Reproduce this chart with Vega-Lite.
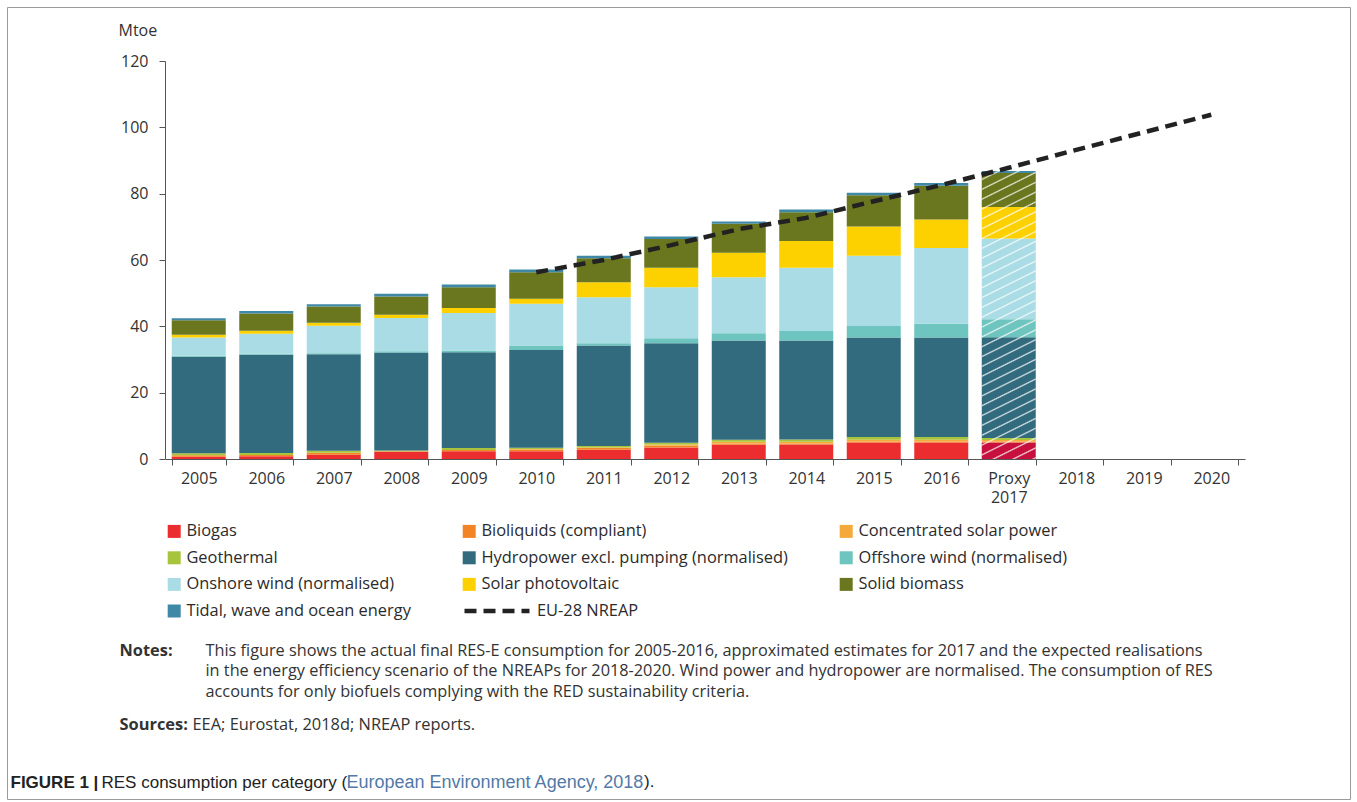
{
  "$schema": "https://vega.github.io/schema/vega-lite/v6.json",
  "autosize": {"type": "none"},
  "width": 1343,
  "height": 792,
  "padding": {"left": 7, "top": 7, "right": 7, "bottom": 3},
  "background": "white",
  "config": {"view": {"stroke": "#9a9a9a", "strokeWidth": 1}, "font": "Open Sans"},
  "title": {
    "text": ").", "orient": "bottom", "anchor": "start", "frame": "group", "offset": 0, "dx": 637, "dy": -12,
    "baseline": "alphabetic", "font": "Liberation Sans", "fontSize": 17, "fontWeight": "normal", "color": "#222222"
  },
  "datasets": {
    "res": [
      {"year":"2005","cat":"Biogas","mtoe":0.7},{"year":"2005","cat":"Bioliquids (compliant)","mtoe":0.4},{"year":"2005","cat":"Concentrated solar power","mtoe":0},{"year":"2005","cat":"Geothermal","mtoe":0.6},{"year":"2005","cat":"Hydropower excl. pumping (normalised)","mtoe":29.1},{"year":"2005","cat":"Offshore wind (normalised)","mtoe":0.3},{"year":"2005","cat":"Onshore wind (normalised)","mtoe":5.5},{"year":"2005","cat":"Solar photovoltaic","mtoe":0.9},{"year":"2005","cat":"Solid biomass","mtoe":4.3},{"year":"2005","cat":"Tidal, wave and ocean energy","mtoe":0.6},
      {"year":"2006","cat":"Biogas","mtoe":0.8},{"year":"2006","cat":"Bioliquids (compliant)","mtoe":0.4},{"year":"2006","cat":"Concentrated solar power","mtoe":0},{"year":"2006","cat":"Geothermal","mtoe":0.6},{"year":"2006","cat":"Hydropower excl. pumping (normalised)","mtoe":29.6},{"year":"2006","cat":"Offshore wind (normalised)","mtoe":0.3},{"year":"2006","cat":"Onshore wind (normalised)","mtoe":6.1},{"year":"2006","cat":"Solar photovoltaic","mtoe":0.9},{"year":"2006","cat":"Solid biomass","mtoe":5.2},{"year":"2006","cat":"Tidal, wave and ocean energy","mtoe":0.7},
      {"year":"2007","cat":"Biogas","mtoe":1.3},{"year":"2007","cat":"Bioliquids (compliant)","mtoe":0.5},{"year":"2007","cat":"Concentrated solar power","mtoe":0.05},{"year":"2007","cat":"Geothermal","mtoe":0.6},{"year":"2007","cat":"Hydropower excl. pumping (normalised)","mtoe":29.1},{"year":"2007","cat":"Offshore wind (normalised)","mtoe":0.3},{"year":"2007","cat":"Onshore wind (normalised)","mtoe":8.3},{"year":"2007","cat":"Solar photovoltaic","mtoe":0.9},{"year":"2007","cat":"Solid biomass","mtoe":4.9},{"year":"2007","cat":"Tidal, wave and ocean energy","mtoe":0.7},
      {"year":"2008","cat":"Biogas","mtoe":2.2},{"year":"2008","cat":"Bioliquids (compliant)","mtoe":0.1},{"year":"2008","cat":"Concentrated solar power","mtoe":0.05},{"year":"2008","cat":"Geothermal","mtoe":0.25},{"year":"2008","cat":"Hydropower excl. pumping (normalised)","mtoe":29.5},{"year":"2008","cat":"Offshore wind (normalised)","mtoe":0.4},{"year":"2008","cat":"Onshore wind (normalised)","mtoe":10.0},{"year":"2008","cat":"Solar photovoltaic","mtoe":1.0},{"year":"2008","cat":"Solid biomass","mtoe":5.5},{"year":"2008","cat":"Tidal, wave and ocean energy","mtoe":0.8},
      {"year":"2009","cat":"Biogas","mtoe":2.3},{"year":"2009","cat":"Bioliquids (compliant)","mtoe":0.4},{"year":"2009","cat":"Concentrated solar power","mtoe":0.05},{"year":"2009","cat":"Geothermal","mtoe":0.55},{"year":"2009","cat":"Hydropower excl. pumping (normalised)","mtoe":28.9},{"year":"2009","cat":"Offshore wind (normalised)","mtoe":0.5},{"year":"2009","cat":"Onshore wind (normalised)","mtoe":11.3},{"year":"2009","cat":"Solar photovoltaic","mtoe":1.5},{"year":"2009","cat":"Solid biomass","mtoe":6.3},{"year":"2009","cat":"Tidal, wave and ocean energy","mtoe":0.8},
      {"year":"2010","cat":"Biogas","mtoe":2.3},{"year":"2010","cat":"Bioliquids (compliant)","mtoe":0.6},{"year":"2010","cat":"Concentrated solar power","mtoe":0.1},{"year":"2010","cat":"Geothermal","mtoe":0.4},{"year":"2010","cat":"Hydropower excl. pumping (normalised)","mtoe":29.5},{"year":"2010","cat":"Offshore wind (normalised)","mtoe":1.3},{"year":"2010","cat":"Onshore wind (normalised)","mtoe":12.6},{"year":"2010","cat":"Solar photovoltaic","mtoe":1.5},{"year":"2010","cat":"Solid biomass","mtoe":8.0},{"year":"2010","cat":"Tidal, wave and ocean energy","mtoe":0.8},
      {"year":"2011","cat":"Biogas","mtoe":2.8},{"year":"2011","cat":"Bioliquids (compliant)","mtoe":0.5},{"year":"2011","cat":"Concentrated solar power","mtoe":0.2},{"year":"2011","cat":"Geothermal","mtoe":0.4},{"year":"2011","cat":"Hydropower excl. pumping (normalised)","mtoe":30.3},{"year":"2011","cat":"Offshore wind (normalised)","mtoe":0.7},{"year":"2011","cat":"Onshore wind (normalised)","mtoe":13.9},{"year":"2011","cat":"Solar photovoltaic","mtoe":4.5},{"year":"2011","cat":"Solid biomass","mtoe":7.2},{"year":"2011","cat":"Tidal, wave and ocean energy","mtoe":0.8},
      {"year":"2012","cat":"Biogas","mtoe":3.5},{"year":"2012","cat":"Bioliquids (compliant)","mtoe":0.5},{"year":"2012","cat":"Concentrated solar power","mtoe":0.4},{"year":"2012","cat":"Geothermal","mtoe":0.5},{"year":"2012","cat":"Hydropower excl. pumping (normalised)","mtoe":30.0},{"year":"2012","cat":"Offshore wind (normalised)","mtoe":1.5},{"year":"2012","cat":"Onshore wind (normalised)","mtoe":15.4},{"year":"2012","cat":"Solar photovoltaic","mtoe":5.9},{"year":"2012","cat":"Solid biomass","mtoe":8.6},{"year":"2012","cat":"Tidal, wave and ocean energy","mtoe":0.8},
      {"year":"2013","cat":"Biogas","mtoe":4.3},{"year":"2013","cat":"Bioliquids (compliant)","mtoe":0.4},{"year":"2013","cat":"Concentrated solar power","mtoe":0.5},{"year":"2013","cat":"Geothermal","mtoe":0.6},{"year":"2013","cat":"Hydropower excl. pumping (normalised)","mtoe":29.9},{"year":"2013","cat":"Offshore wind (normalised)","mtoe":2.2},{"year":"2013","cat":"Onshore wind (normalised)","mtoe":16.9},{"year":"2013","cat":"Solar photovoltaic","mtoe":7.4},{"year":"2013","cat":"Solid biomass","mtoe":8.7},{"year":"2013","cat":"Tidal, wave and ocean energy","mtoe":0.7},
      {"year":"2014","cat":"Biogas","mtoe":4.4},{"year":"2014","cat":"Bioliquids (compliant)","mtoe":0.3},{"year":"2014","cat":"Concentrated solar power","mtoe":0.5},{"year":"2014","cat":"Geothermal","mtoe":0.7},{"year":"2014","cat":"Hydropower excl. pumping (normalised)","mtoe":29.8},{"year":"2014","cat":"Offshore wind (normalised)","mtoe":2.9},{"year":"2014","cat":"Onshore wind (normalised)","mtoe":19.1},{"year":"2014","cat":"Solar photovoltaic","mtoe":8.0},{"year":"2014","cat":"Solid biomass","mtoe":8.7},{"year":"2014","cat":"Tidal, wave and ocean energy","mtoe":0.8},
      {"year":"2015","cat":"Biogas","mtoe":5.0},{"year":"2015","cat":"Bioliquids (compliant)","mtoe":0.3},{"year":"2015","cat":"Concentrated solar power","mtoe":0.5},{"year":"2015","cat":"Geothermal","mtoe":0.8},{"year":"2015","cat":"Hydropower excl. pumping (normalised)","mtoe":30.0},{"year":"2015","cat":"Offshore wind (normalised)","mtoe":3.5},{"year":"2015","cat":"Onshore wind (normalised)","mtoe":21.2},{"year":"2015","cat":"Solar photovoltaic","mtoe":8.8},{"year":"2015","cat":"Solid biomass","mtoe":9.4},{"year":"2015","cat":"Tidal, wave and ocean energy","mtoe":0.8},
      {"year":"2016","cat":"Biogas","mtoe":5.0},{"year":"2016","cat":"Bioliquids (compliant)","mtoe":0.3},{"year":"2016","cat":"Concentrated solar power","mtoe":0.5},{"year":"2016","cat":"Geothermal","mtoe":0.8},{"year":"2016","cat":"Hydropower excl. pumping (normalised)","mtoe":30.0},{"year":"2016","cat":"Offshore wind (normalised)","mtoe":4.2},{"year":"2016","cat":"Onshore wind (normalised)","mtoe":22.8},{"year":"2016","cat":"Solar photovoltaic","mtoe":8.6},{"year":"2016","cat":"Solid biomass","mtoe":10.2},{"year":"2016","cat":"Tidal, wave and ocean energy","mtoe":0.8},
      {"year":"Proxy 2017","cat":"Biogas","mtoe":5.0},{"year":"Proxy 2017","cat":"Bioliquids (compliant)","mtoe":0.3},{"year":"Proxy 2017","cat":"Concentrated solar power","mtoe":0.4},{"year":"Proxy 2017","cat":"Geothermal","mtoe":0.6},{"year":"Proxy 2017","cat":"Hydropower excl. pumping (normalised)","mtoe":30.4},{"year":"Proxy 2017","cat":"Offshore wind (normalised)","mtoe":5.4},{"year":"Proxy 2017","cat":"Onshore wind (normalised)","mtoe":24.4},{"year":"Proxy 2017","cat":"Solar photovoltaic","mtoe":9.5},{"year":"Proxy 2017","cat":"Solid biomass","mtoe":10.2},{"year":"Proxy 2017","cat":"Tidal, wave and ocean energy","mtoe":0.6}
    ],
    "nreap": [
      {"year":"2010","mtoe":56.3,"series":"EU-28 NREAP"},
      {"year":"2011","mtoe":60.0,"series":"EU-28 NREAP"},
      {"year":"2012","mtoe":64.5,"series":"EU-28 NREAP"},
      {"year":"2013","mtoe":69.3,"series":"EU-28 NREAP"},
      {"year":"2014","mtoe":72.7,"series":"EU-28 NREAP"},
      {"year":"2015","mtoe":77.7,"series":"EU-28 NREAP"},
      {"year":"2016","mtoe":82.6,"series":"EU-28 NREAP"},
      {"year":"Proxy 2017","mtoe":87.8,"series":"EU-28 NREAP"},
      {"year":"2018","mtoe":93.2,"series":"EU-28 NREAP"},
      {"year":"2019","mtoe":98.5,"series":"EU-28 NREAP"},
      {"year":"2020","mtoe":103.8,"series":"EU-28 NREAP"}
    ]
  },
  "data": {"name": "res"},
  "resolve": {"axis": {"x": "independent", "y": "independent"}},
  "layer": [
    {
      "transform": [{"filter": "datum.year !== 'Proxy 2017'"}],
      "mark": {"type": "bar"},
      "encoding": {
        "x": {
          "field": "year", "type": "ordinal",
          "scale": {"domain": ["2005","2006","2007","2008","2009","2010","2011","2012","2013","2014","2015","2016","Proxy 2017","2018","2019","2020"], "range": [158, 1238], "paddingInner": 0.2, "paddingOuter": 0.1},
          "axis": {
            "orient": "bottom", "offset": -340, "labelAngle": 0, "grid": false,
            "tickBand": "extent", "tickSize": 6, "tickColor": "#555555", "domainColor": "#555555",
            "labelFont": "Open Sans", "labelFontSize": 16, "labelColor": "#333333", "labelPadding": 5, "labelLineHeight": 19.5,
            "labelExpr": "datum.value === 'Proxy 2017' ? ['Proxy', '2017'] : datum.value",
            "title": "Notes:", "titleX": 112, "titleY": 196, "titleAlign": "left", "titleBaseline": "alphabetic", "titleAngle": 0,
            "titleFont": "Open Sans", "titleFontSize": 16.4, "titleFontWeight": "bold", "titleColor": "#333333", "titleLimit": 2000
          }
        },
        "y": {
          "field": "mtoe", "type": "quantitative", "stack": "zero",
          "scale": {"domain": [0, 120], "nice": false, "range": [452, 54]},
          "axis": {
            "orient": "left", "offset": -158, "values": [0,20,40,60,80,100,120], "grid": false,
            "tickSize": 6, "tickColor": "#555555", "domainColor": "#555555",
            "labelFont": "Open Sans", "labelFontSize": 16, "labelColor": "#333333", "labelPadding": 11,
            "title": "Mtoe", "titleAngle": 0, "titleX": -47, "titleY": 28, "titleAlign": "left", "titleBaseline": "alphabetic",
            "titleFont": "Open Sans", "titleFontSize": 16, "titleFontWeight": "normal", "titleColor": "#333333"
          }
        },
        "color": {
          "field": "cat", "type": "nominal",
          "scale": {
            "domain": ["Biogas","Bioliquids (compliant)","Concentrated solar power","Geothermal","Hydropower excl. pumping (normalised)","Offshore wind (normalised)","Onshore wind (normalised)","Solar photovoltaic","Solid biomass","Tidal, wave and ocean energy"],
            "range": ["#ec2d2f","#f28425","#f6a93b","#a8c43d","#336b7e","#6ec5bf","#a9dce5","#fdd000","#6a771e","#3f88a6"]
          },
          "legend": {
            "orient": "none", "legendX": 159, "legendY": 516, "direction": "horizontal", "columns": 3, "columnPadding": 50, "rowPadding": 9.6,
            "title": null, "symbolType": "square", "symbolSize": 169, "symbolStrokeWidth": 0,
            "labelFont": "Open Sans", "labelFontSize": 16.4, "labelColor": "#2b2b2b", "labelOffset": 4, "labelLimit": 600, "padding": 0, "gridAlign": "each"
          }
        },
        "order": {"field": "cat", "type": "ordinal", "sort": "ascending"}
      }
    },
    {
      "transform": [{"filter": "datum.year === 'Proxy 2017'"}],
      "mark": {"type": "bar"},
      "encoding": {
        "x": {
          "field": "year", "type": "ordinal",
          "axis": {
            "orient": "bottom", "offset": 0, "labels": false, "ticks": false, "domain": false, "grid": false,
            "title": ["This figure shows the actual final RES-E consumption for 2005-2016, approximated estimates for 2017 and the expected realisations", "in the energy efficiency scenario of the NREAPs for 2018-2020. Wind power and hydropower are normalised. The consumption of RES", "accounts for only biofuels complying with the RED sustainability criteria."],
            "titleX": 198, "titleY": -144, "titleAlign": "left", "titleBaseline": "alphabetic", "titleAngle": 0, "titleLineHeight": 20.5,
            "titleFont": "Open Sans", "titleFontSize": 16.3, "titleFontWeight": "normal", "titleColor": "#333333", "titleLimit": 2000
          }
        },
        "y": {
          "field": "mtoe", "type": "quantitative", "stack": "zero",
          "axis": {
            "orient": "left", "offset": 0, "labels": false, "ticks": false, "domain": false, "grid": false,
            "title": "Sources:", "titleX": 112, "titleY": 722, "titleAlign": "left", "titleBaseline": "alphabetic", "titleAngle": 0,
            "titleFont": "Open Sans", "titleFontSize": 16.4, "titleFontWeight": "bold", "titleColor": "#333333", "titleLimit": 2000
          }
        },
        "color": {
          "field": "cat", "type": "nominal",
          "condition": {"test": "datum.cat === 'Biogas'", "value": "#c8103e"},
          "legend": {
            "orient": "none", "legendX": 159, "legendY": 516, "direction": "horizontal", "columns": 3, "columnPadding": 50, "rowPadding": 9.6,
            "title": null, "symbolType": "square", "symbolSize": 169, "symbolStrokeWidth": 0,
            "labelFont": "Open Sans", "labelFontSize": 16.4, "labelColor": "#2b2b2b", "labelOffset": 4, "labelLimit": 600, "padding": 0, "gridAlign": "each"
          }
        },
        "order": {"field": "cat", "type": "ordinal", "sort": "ascending"}
      }
    },
    {
      "transform": [
        {"filter": "datum.year === 'Proxy 2017'"},
        {"aggregate": [{"op": "sum", "field": "mtoe", "as": "total"}], "groupby": ["year"]}
      ],
      "mark": {
        "type": "bar",
        "fill": {
          "gradient": "linear", "x1": 0, "y1": 0, "x2": 0.101, "y2": 1.084,
          "stops": [
            {"offset":0,"color":"rgba(255,255,255,0)"},
            {"offset":0.0225,"color":"rgba(255,255,255,0)"},{"offset":0.0269,"color":"rgba(255,255,255,0.8)"},{"offset":0.03125,"color":"rgba(255,255,255,0)"},
            {"offset":0.05375,"color":"rgba(255,255,255,0)"},{"offset":0.05815,"color":"rgba(255,255,255,0.8)"},{"offset":0.0625,"color":"rgba(255,255,255,0)"},
            {"offset":0.085,"color":"rgba(255,255,255,0)"},{"offset":0.0894,"color":"rgba(255,255,255,0.8)"},{"offset":0.09375,"color":"rgba(255,255,255,0)"},
            {"offset":0.11625,"color":"rgba(255,255,255,0)"},{"offset":0.12065,"color":"rgba(255,255,255,0.8)"},{"offset":0.125,"color":"rgba(255,255,255,0)"},
            {"offset":0.1475,"color":"rgba(255,255,255,0)"},{"offset":0.1519,"color":"rgba(255,255,255,0.8)"},{"offset":0.15625,"color":"rgba(255,255,255,0)"},
            {"offset":0.17875,"color":"rgba(255,255,255,0)"},{"offset":0.18315,"color":"rgba(255,255,255,0.8)"},{"offset":0.1875,"color":"rgba(255,255,255,0)"},
            {"offset":0.21,"color":"rgba(255,255,255,0)"},{"offset":0.2144,"color":"rgba(255,255,255,0.8)"},{"offset":0.21875,"color":"rgba(255,255,255,0)"},
            {"offset":0.24125,"color":"rgba(255,255,255,0)"},{"offset":0.24565,"color":"rgba(255,255,255,0.8)"},{"offset":0.25,"color":"rgba(255,255,255,0)"},
            {"offset":0.2725,"color":"rgba(255,255,255,0)"},{"offset":0.2769,"color":"rgba(255,255,255,0.8)"},{"offset":0.28125,"color":"rgba(255,255,255,0)"},
            {"offset":0.30375,"color":"rgba(255,255,255,0)"},{"offset":0.30815,"color":"rgba(255,255,255,0.8)"},{"offset":0.3125,"color":"rgba(255,255,255,0)"},
            {"offset":0.335,"color":"rgba(255,255,255,0)"},{"offset":0.3394,"color":"rgba(255,255,255,0.8)"},{"offset":0.34375,"color":"rgba(255,255,255,0)"},
            {"offset":0.36625,"color":"rgba(255,255,255,0)"},{"offset":0.37065,"color":"rgba(255,255,255,0.8)"},{"offset":0.375,"color":"rgba(255,255,255,0)"},
            {"offset":0.3975,"color":"rgba(255,255,255,0)"},{"offset":0.4019,"color":"rgba(255,255,255,0.8)"},{"offset":0.40625,"color":"rgba(255,255,255,0)"},
            {"offset":0.42875,"color":"rgba(255,255,255,0)"},{"offset":0.43315,"color":"rgba(255,255,255,0.8)"},{"offset":0.4375,"color":"rgba(255,255,255,0)"},
            {"offset":0.46,"color":"rgba(255,255,255,0)"},{"offset":0.4644,"color":"rgba(255,255,255,0.8)"},{"offset":0.46875,"color":"rgba(255,255,255,0)"},
            {"offset":0.49125,"color":"rgba(255,255,255,0)"},{"offset":0.49565,"color":"rgba(255,255,255,0.8)"},{"offset":0.5,"color":"rgba(255,255,255,0)"},
            {"offset":0.5225,"color":"rgba(255,255,255,0)"},{"offset":0.5269,"color":"rgba(255,255,255,0.8)"},{"offset":0.53125,"color":"rgba(255,255,255,0)"},
            {"offset":0.55375,"color":"rgba(255,255,255,0)"},{"offset":0.55815,"color":"rgba(255,255,255,0.8)"},{"offset":0.5625,"color":"rgba(255,255,255,0)"},
            {"offset":0.585,"color":"rgba(255,255,255,0)"},{"offset":0.5894,"color":"rgba(255,255,255,0.8)"},{"offset":0.59375,"color":"rgba(255,255,255,0)"},
            {"offset":0.61625,"color":"rgba(255,255,255,0)"},{"offset":0.62065,"color":"rgba(255,255,255,0.8)"},{"offset":0.625,"color":"rgba(255,255,255,0)"},
            {"offset":0.6475,"color":"rgba(255,255,255,0)"},{"offset":0.6519,"color":"rgba(255,255,255,0.8)"},{"offset":0.65625,"color":"rgba(255,255,255,0)"},
            {"offset":0.67875,"color":"rgba(255,255,255,0)"},{"offset":0.68315,"color":"rgba(255,255,255,0.8)"},{"offset":0.6875,"color":"rgba(255,255,255,0)"},
            {"offset":0.71,"color":"rgba(255,255,255,0)"},{"offset":0.7144,"color":"rgba(255,255,255,0.8)"},{"offset":0.71875,"color":"rgba(255,255,255,0)"},
            {"offset":0.74125,"color":"rgba(255,255,255,0)"},{"offset":0.74565,"color":"rgba(255,255,255,0.8)"},{"offset":0.75,"color":"rgba(255,255,255,0)"},
            {"offset":0.7725,"color":"rgba(255,255,255,0)"},{"offset":0.7769,"color":"rgba(255,255,255,0.8)"},{"offset":0.78125,"color":"rgba(255,255,255,0)"},
            {"offset":0.80375,"color":"rgba(255,255,255,0)"},{"offset":0.80815,"color":"rgba(255,255,255,0.8)"},{"offset":0.8125,"color":"rgba(255,255,255,0)"},
            {"offset":0.835,"color":"rgba(255,255,255,0)"},{"offset":0.8394,"color":"rgba(255,255,255,0.8)"},{"offset":0.84375,"color":"rgba(255,255,255,0)"},
            {"offset":0.86625,"color":"rgba(255,255,255,0)"},{"offset":0.87065,"color":"rgba(255,255,255,0.8)"},{"offset":0.875,"color":"rgba(255,255,255,0)"},
            {"offset":0.8975,"color":"rgba(255,255,255,0)"},{"offset":0.9019,"color":"rgba(255,255,255,0.8)"},{"offset":0.90625,"color":"rgba(255,255,255,0)"},
            {"offset":0.92875,"color":"rgba(255,255,255,0)"},{"offset":0.93315,"color":"rgba(255,255,255,0.8)"},{"offset":0.9375,"color":"rgba(255,255,255,0)"},
            {"offset":0.96,"color":"rgba(255,255,255,0)"},{"offset":0.9644,"color":"rgba(255,255,255,0.8)"},{"offset":0.96875,"color":"rgba(255,255,255,0)"},
            {"offset":0.99125,"color":"rgba(255,255,255,0)"},{"offset":0.99565,"color":"rgba(255,255,255,0.8)"},{"offset":1,"color":"rgba(255,255,255,0)"}
          ]
        }
      },
      "encoding": {
        "x": {
          "field": "year", "type": "ordinal",
          "axis": {
            "orient": "bottom", "offset": 0, "labels": false, "ticks": false, "domain": false, "grid": false,
            "title": "EEA; Eurostat, 2018d; NREAP reports.",
            "titleX": 185, "titleY": -70, "titleAlign": "left", "titleBaseline": "alphabetic", "titleAngle": 0,
            "titleFont": "Open Sans", "titleFontSize": 16.4, "titleFontWeight": "normal", "titleColor": "#333333", "titleLimit": 2000
          }
        },
        "y": {
          "field": "total", "type": "quantitative",
          "axis": {
            "orient": "left", "offset": 0, "labels": false, "ticks": false, "domain": false, "grid": false,
            "title": "FIGURE 1 |", "titleX": 3, "titleY": 780, "titleAlign": "left", "titleBaseline": "alphabetic", "titleAngle": 0,
            "titleFont": "Liberation Sans", "titleFontSize": 17, "titleFontWeight": "bold", "titleColor": "#222222", "titleLimit": 2000
          }
        }
      }
    },
    {
      "data": {"name": "nreap"},
      "mark": {"type": "line", "strokeWidth": 4.5, "color": "#222222", "strokeCap": "butt"},
      "encoding": {
        "x": {
          "field": "year", "type": "ordinal",
          "axis": {
            "orient": "bottom", "offset": 0, "labels": false, "ticks": false, "domain": false, "grid": false,
            "title": "RES consumption per category (",
            "titleX": 94, "titleY": -12, "titleAlign": "left", "titleBaseline": "alphabetic", "titleAngle": 0,
            "titleFont": "Liberation Sans", "titleFontSize": 17, "titleFontWeight": "normal", "titleColor": "#222222", "titleLimit": 2000
          }
        },
        "y": {
          "field": "mtoe", "type": "quantitative",
          "axis": {
            "orient": "left", "offset": 0, "labels": false, "ticks": false, "domain": false, "grid": false,
            "title": "European Environment Agency, 2018", "titleX": 339, "titleY": 780, "titleAlign": "left", "titleBaseline": "alphabetic", "titleAngle": 0,
            "titleFont": "Liberation Sans", "titleFontSize": 18, "titleFontWeight": "normal", "titleColor": "#5279a8", "titleLimit": 2000
          }
        },
        "order": {"value": null},
        "strokeDash": {
          "field": "series", "type": "nominal",
          "scale": {"range": [[12, 7]]},
          "legend": {
            "orient": "none", "legendX": 455, "legendY": 569, "title": null,
            "symbolType": "stroke", "symbolSize": 4225, "symbolStrokeWidth": 4.5, "symbolStrokeColor": "#222222",
            "labelFont": "Open Sans", "labelFontSize": 16.4, "labelColor": "#2b2b2b", "labelOffset": 5, "padding": 0
          }
        }
      }
    }
  ]
}
